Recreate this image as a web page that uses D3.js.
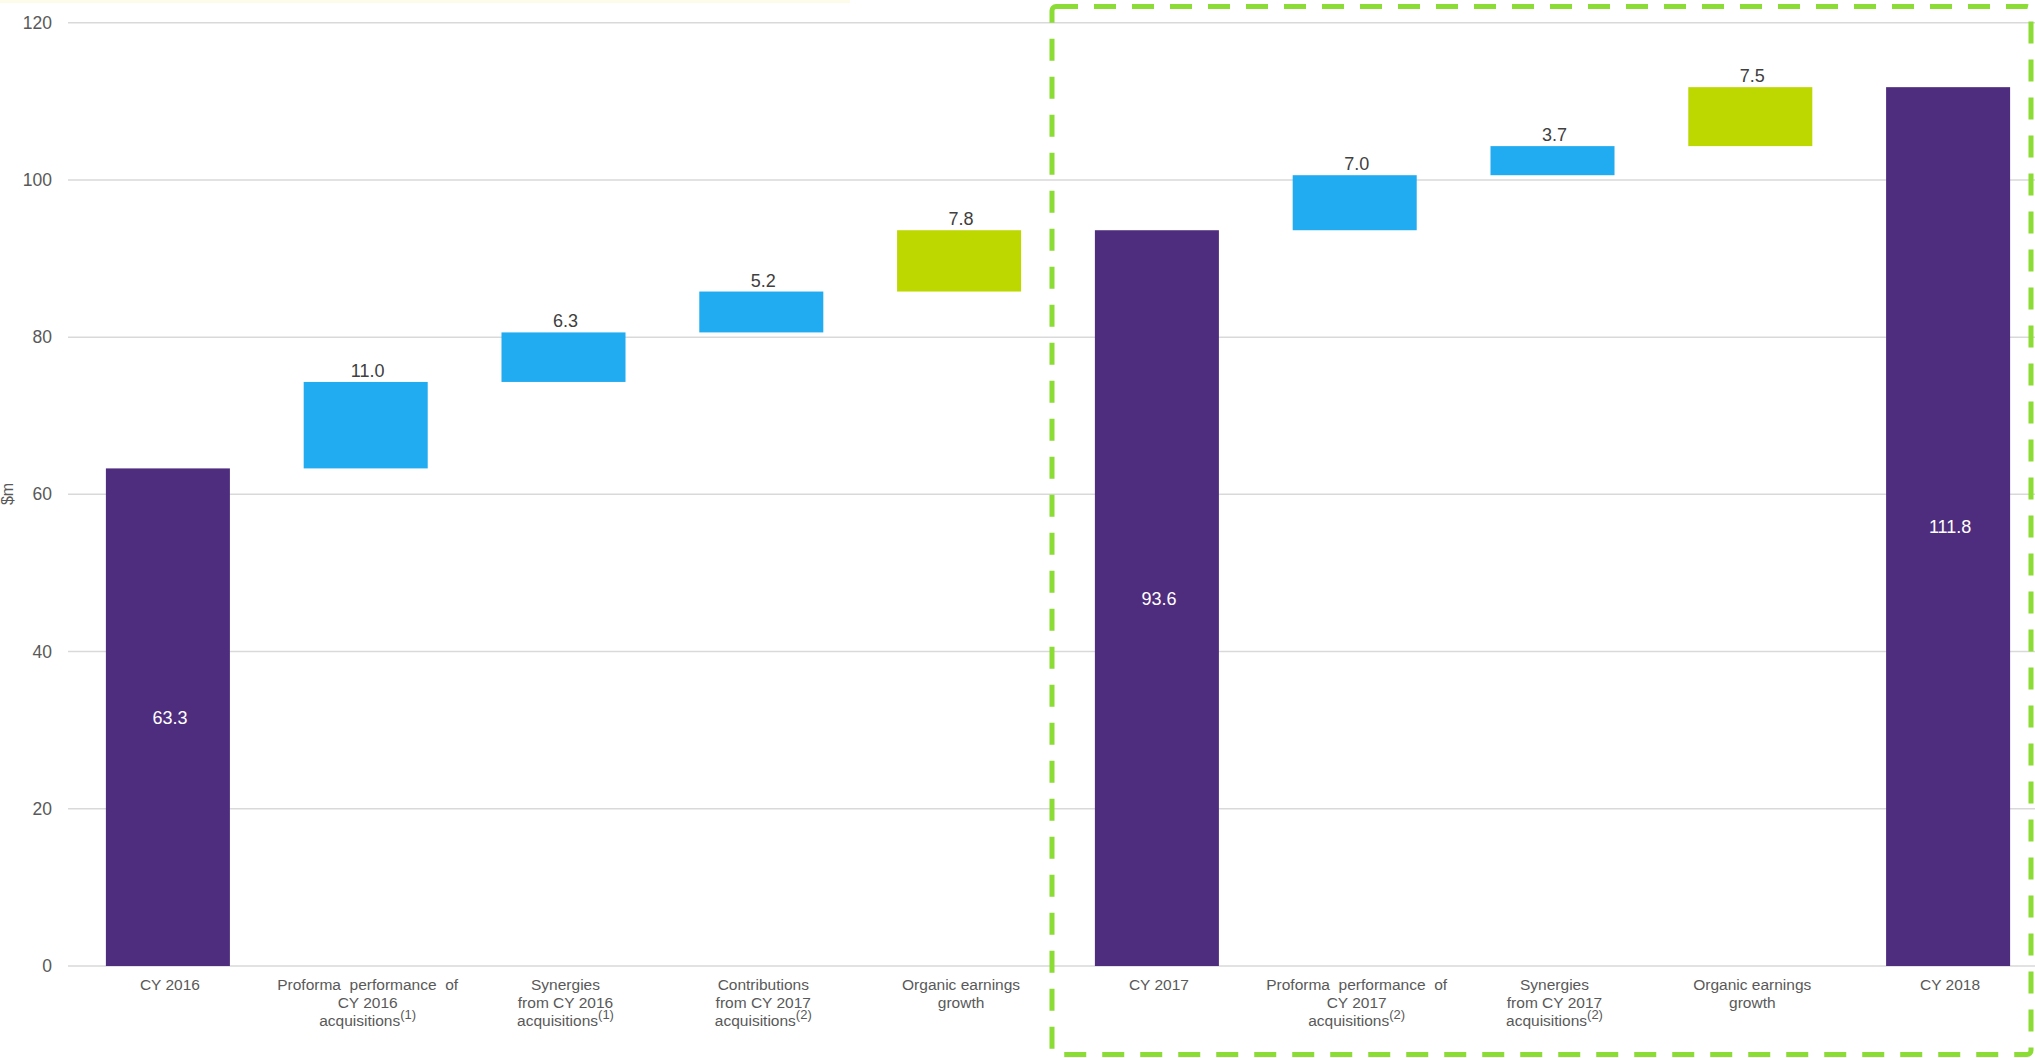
<!DOCTYPE html>
<html>
<head>
    <meta charset="utf-8">
    <title>bridge</title>
    <style media="screen">
        body {
            margin: 0;
            background: #fff;
        }

        text {
            font-family: "Liberation Sans", Arial, sans-serif;
        }

        .grid line {
            stroke: #d9d9d9;
            stroke-width: 1.5px;
        }

        .tick-label {
            font-size: 17.5px;
            fill: #595959;
        }

        .cat text {
            font-size: 15.5px;
            fill: #595959;
        }
    </style>
</head>
<body>

</body>
<script src="https://cdn.jsdelivr.net/npm/d3@7"></script>
<script type="text/javascript">
    // categories, each one is a list of label lines, the last one may carry a note
    var categories = [
        ["CY 2016"],
        ["Proforma  performance  of", "CY 2016", "acquisitions"],
        ["Synergies", "from CY 2016", "acquisitions"],
        ["Contributions", "from CY 2017", "acquisitions"],
        ["Organic earnings", "growth"],
        ["CY 2017"],
        ["Proforma  performance  of", "CY 2017", "acquisitions"],
        ["Synergies", "from CY 2017", "acquisitions"],
        ["Organic earnings", "growth"],
        ["CY 2018"]
    ];
    var notes = ["", "(1)", "(1)", "(2)", "", "", "(2)", "(2)", "", ""];
    var values = [63.3, 11.0, 6.3, 5.2, 7.8, 93.6, 7.0, 3.7, 7.5, 111.8];
    // total = full bar from zero, acq = acquisition step, organic = organic step
    var kinds = ["total", "acq", "acq", "acq", "organic", "total", "acq", "acq", "organic", "total"];
    var yTicks = [0, 20, 40, 60, 80, 100, 120];

    var colors = {total: "#4f2d7e", acq: "#21acf2", organic: "#bdd700"};

    var width = 2035,
        height = 1058;

    var svg = d3.select("body").append("svg")
        .attr("width", width)
        .attr("height", height);

    // faint strip along the top left edge
    svg.append("rect")
        .attr("x", 0).attr("y", 0)
        .attr("width", 850).attr("height", 3)
        .attr("fill", "#fdfbe9");

    var x = d3.scaleBand()
        .domain(d3.range(categories.length))
        .range([69, 2047])
        .paddingInner(0.373)
        .paddingOuter(0.1865);

    var y = d3.scaleLinear()
        .domain([0, 120])
        .range([966, 22.7]);

    // work out the floating bars
    var running = 0;
    var bars = values.map(function (v, i) {
        var d = {i: i, value: v, kind: kinds[i]};
        if (kinds[i] == "total") {
            d.y0 = 0;
            d.y1 = v;
            running = v;
        } else {
            d.y0 = running;
            d.y1 = running + v;
            running = d.y1;
        }
        return d;
    });

    // gridlines
    var grid = svg.append("g").attr("class", "grid");
    grid.selectAll("line")
        .data(yTicks)
        .enter().append("line")
        .attr("x1", 68)
        .attr("x2", width)
        .attr("y1", function (d) { return y(d); })
        .attr("y2", function (d) { return y(d); });

    // y axis labels, no domain line
    var yAxis = svg.append("g")
        .attr("transform", "translate(52,0)")
        .call(d3.axisLeft(y).tickValues(yTicks).tickSize(0).tickPadding(0));
    yAxis.select(".domain").remove();
    yAxis.selectAll("text")
        .attr("class", "tick-label")
        .attr("font-family", null)
        .attr("font-size", null)
        .attr("fill", "#595959");

    svg.append("text")
        .attr("transform", "translate(13,494) rotate(-90)")
        .attr("text-anchor", "middle")
        .style("font-size", "16px")
        .style("fill", "#595959")
        .text("$m");

    // bars
    svg.selectAll("rect.bar")
        .data(bars)
        .enter().append("rect")
        .attr("class", "bar")
        .attr("x", function (d) { return x(d.i); })
        .attr("width", x.bandwidth())
        .attr("y", function (d) { return y(d.y1); })
        .attr("height", function (d) { return y(d.y0) - y(d.y1); })
        .attr("fill", function (d) { return colors[d.kind]; });

    // value labels: inside the totals, above the steps
    svg.selectAll("text.val")
        .data(bars)
        .enter().append("text")
        .attr("class", "val")
        .attr("x", function (d) { return x(d.i) + x.bandwidth() / 2 + 2; })
        .attr("y", function (d) {
            return d.kind == "total" ? (y(d.y0) + y(d.y1)) / 2 + 6.5 : y(d.y1) - 5;
        })
        .attr("text-anchor", "middle")
        .style("font-size", "18px")
        .style("fill", function (d) { return d.kind == "total" ? "#fff" : "#404040"; })
        .text(function (d) { return d.value.toFixed(1); });

    // category labels
    var cat = svg.append("g").attr("class", "cat");
    categories.forEach(function (lines, i) {
        var cx = x(i) + x.bandwidth() / 2 + 2;
        var t = cat.append("text")
            .attr("x", cx)
            .attr("y", 989.5)
            .attr("text-anchor", "middle")
            .attr("xml:space", "preserve");
        lines.forEach(function (line, j) {
            t.append("tspan")
                .attr("x", cx)
                .attr("y", 989.5 + j * 18.3)
                .text(line);
        });
        if (notes[i]) {
            t.append("tspan")
                .attr("dy", -7)
                .style("font-size", "13px")
                .text(notes[i]);
        }
    });

    // dashed box around the 2017 to 2018 walk
    var boxLeft = (x(4) + x.bandwidth() + x(5)) / 2 - 6;
    svg.append("rect")
        .attr("x", boxLeft)
        .attr("y", 6.5)
        .attr("width", 2031 - boxLeft)
        .attr("height", 1048)
        .attr("rx", 4)
        .attr("fill", "none")
        .attr("stroke", "#8bdc34")
        .attr("stroke-width", 5)
        .attr("stroke-dasharray", "22,16");

</script>

</html>
